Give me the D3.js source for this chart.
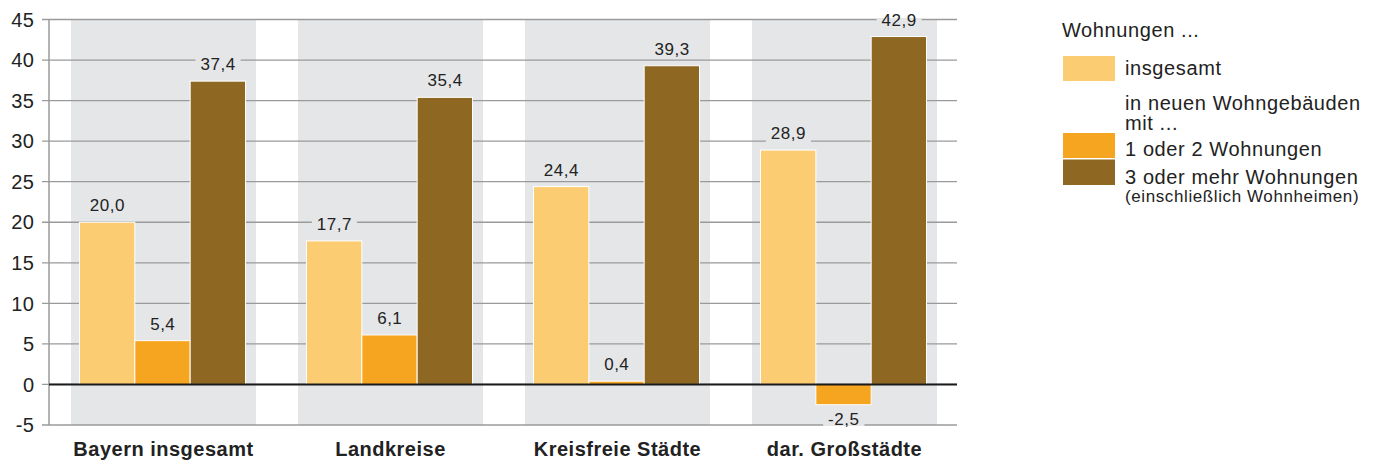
<!DOCTYPE html>
<html><head><meta charset="utf-8">
<script src="https://cdn.jsdelivr.net/npm/d3@7"></script>
<style>
body{margin:0;background:#fff;}
text{font-family:"Liberation Sans",Arial,Helvetica,sans-serif;fill:#222;}
</style></head>
<body>
<svg id="c" width="1382" height="463"></svg>
<script>
const categories = ["Bayern insgesamt","Landkreise","Kreisfreie Städte","dar. Großstädte"];
const seriesNames = ["insgesamt","1 oder 2 Wohnungen","3 oder mehr Wohnungen"];
const insgesamt = [20.0, 17.7, 24.4, 28.9];
const einZwei = [5.4, 6.1, 0.4, -2.5];
const dreiMehr = [37.4, 35.4, 39.3, 42.9];
const yTicks = [-5,0,5,10,15,20,25,30,35,40,45];
const colors = ["#FCCC72","#F6A520","#8E6823"];

(function(){
const series = [insgesamt, einZwei, dreiMehr];
const svg = d3.select("#c");
const pLeft = 49, pRight = 957, pTop = 19.5, pBottom = 425;
const y = d3.scaleLinear().domain([-5,45]).range([pBottom, pTop]);
const x = d3.scaleBand().domain(categories).range([pLeft, pRight]).paddingInner(0).paddingOuter(0);
const xi = d3.scaleBand().domain(d3.range(3)).range([30.5, 196.5]).paddingInner(0);
const bandColor = "#E5E6E8";

// gray bands
svg.append("g").selectAll("rect").data(categories).join("rect")
  .attr("x", d => x(d) + 22).attr("y", y(45)).attr("width", 185).attr("height", y(-5) - y(45))
  .attr("fill", bandColor);

// gridlines
svg.append("g").selectAll("line").data(yTicks).join("line")
  .attr("x1", 42).attr("x2", pRight).attr("y1", d => y(d)).attr("y2", d => y(d))
  .attr("stroke", "#9a9a9a").attr("stroke-width", 1.3);

// y axis line
svg.append("line").attr("x1", pLeft).attr("x2", pLeft).attr("y1", y(45)).attr("y2", y(-5))
  .attr("stroke", "#9a9a9a").attr("stroke-width", 1.5);

// tick labels
svg.append("g").selectAll("text").data(yTicks).join("text")
  .attr("x", 34.5).attr("y", d => y(d)).attr("dy", "0.36em").attr("text-anchor", "end")
  .attr("font-size", 20).attr("letter-spacing", 0.5).text(d => d);

// bars
const fmt = v => v.toFixed(1).replace(".", ",");
const barG = svg.append("g");
const labelData = [];
series.forEach((vals, si) => {
  vals.forEach((v, ci) => {
    const bx = x(categories[ci]) + xi(si);
    barG.append("rect")
      .attr("x", bx).attr("width", xi.bandwidth())
      .attr("y", y(Math.max(0, v))).attr("height", Math.abs(y(v) - y(0)))
      .attr("fill", colors[si]).attr("stroke", "#fff").attr("stroke-width", 1);
    labelData.push({v, cx: bx + xi.bandwidth()/2});
  });
});

// zero line
svg.append("line").attr("x1", pLeft).attr("x2", pRight).attr("y1", y(0)).attr("y2", y(0))
  .attr("stroke", "#1a1a1a").attr("stroke-width", 2);

// value labels
const lg = svg.append("g");
labelData.forEach(d => {
  const ty = d.v >= 0 ? y(d.v) - 11 : y(d.v) + 20;
  const t = lg.append("text").attr("x", d.cx + 0.25).attr("y", ty).attr("text-anchor", "middle")
    .attr("font-size", 17).attr("letter-spacing", 0.5).text(fmt(d.v));
  const bb = t.node().getBBox();
  const ry = Math.max(bb.y + 2, y(45) - 1);
  const ry2 = Math.min(bb.y + bb.height - 1, y(-5) + 1);
  lg.insert("rect", "text").attr("x", bb.x - 5).attr("y", ry).attr("width", bb.width + 10)
    .attr("height", ry2 - ry).attr("fill", bandColor);
});
lg.selectAll("text").raise();

// category labels
svg.append("g").selectAll("text").data(categories).join("text")
  .attr("x", d => x(d) + 22 + 185/2).attr("y", 456).attr("text-anchor", "middle")
  .attr("font-size", 20).attr("letter-spacing", 0.5).attr("font-weight", "bold").text(d => d);

// legend
const lgd = svg.append("g").attr("font-size", 20).attr("letter-spacing", 0.6);
lgd.append("text").attr("x", 1062).attr("y", 37).text("Wohnungen ...");
const sw = [{y:56, h:25}, {y:133, h:25}, {y:159.5, h:25.5}];
sw.forEach((s, i) => {
  lgd.append("rect").attr("x", 1063).attr("y", s.y).attr("width", 52).attr("height", s.h).attr("fill", colors[i]);
});
lgd.append("text").attr("x", 1125).attr("y", 75).text(seriesNames[0]);
lgd.append("text").attr("x", 1125).attr("y", 110).text("in neuen Wohngebäuden");
lgd.append("text").attr("x", 1125).attr("y", 129.5).text("mit ...");
lgd.append("text").attr("x", 1125).attr("y", 156).text(seriesNames[1]);
lgd.append("text").attr("x", 1125).attr("y", 184).text(seriesNames[2]);
lgd.append("text").attr("x", 1125).attr("y", 201.5).attr("font-size", 17).attr("letter-spacing", 0.6).text("(einschließlich Wohnheimen)");
})();
</script>
</body></html>
